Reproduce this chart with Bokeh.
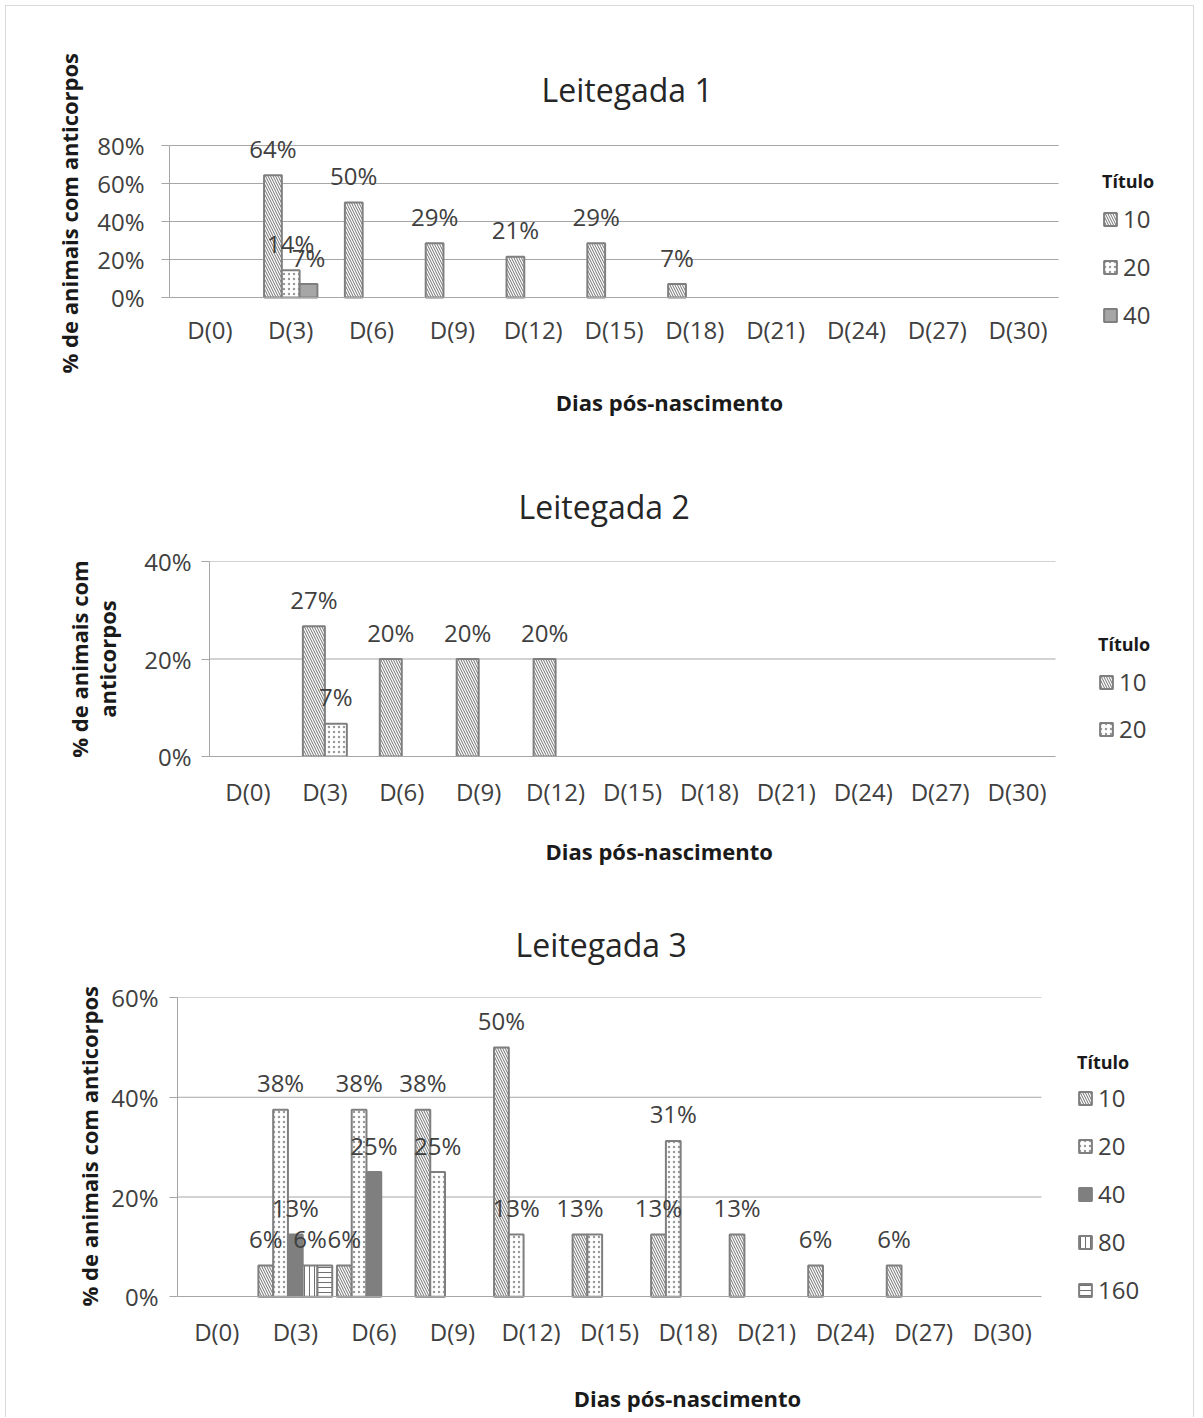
from bokeh.plotting import figure
from bokeh.models import (ColumnDataSource, FixedTicker, PrintfTickFormatter,
                          Legend, LegendItem, Range1d, Title)
from bokeh.embed import file_html
from bokeh.resources import INLINE

# ---------------- data ----------------
days = ["D(0)", "D(3)", "D(6)", "D(9)", "D(12)", "D(15)", "D(18)", "D(21)", "D(24)", "D(27)", "D(30)"]

# Leitegada 1 : % de animais com anticorpos, por título
l1_t10 = [0, 64.3, 50.0, 28.6, 21.4, 28.6, 7.1, 0, 0, 0, 0]
l1_t20 = [0, 14.3, 0, 0, 0, 0, 0, 0, 0, 0, 0]
l1_t40 = [0, 7.1, 0, 0, 0, 0, 0, 0, 0, 0, 0]
l1_yticks = [0, 20, 40, 60, 80]

# Leitegada 2
l2_t10 = [0, 26.7, 20.0, 20.0, 20.0, 0, 0, 0, 0, 0, 0]
l2_t20 = [0, 6.7, 0, 0, 0, 0, 0, 0, 0, 0, 0]
l2_yticks = [0, 20, 40]

# Leitegada 3
l3_t10 = [0, 6.25, 6.25, 37.5, 50.0, 12.5, 12.5, 12.5, 6.25, 6.25, 0]
l3_t20 = [0, 37.5, 37.5, 25.0, 12.5, 12.5, 31.25, 0, 0, 0, 0]
l3_t40 = [0, 12.5, 25.0, 0, 0, 0, 0, 0, 0, 0, 0]
l3_t80 = [0, 6.25, 0, 0, 0, 0, 0, 0, 0, 0, 0]
l3_t160 = [0, 6.25, 0, 0, 0, 0, 0, 0, 0, 0, 0]
l3_yticks = [0, 20, 40, 60]
# data labels that are not shown in the source chart: (título, day index)
l3_hidden_labels = [("160", 1), ("20", 5)]

XLABEL = "Dias pós-nascimento"

# ---------------- styling ----------------
FONT = "Open Sans"
TXT = "#404040"
DARK = "#1a1a1a"
GRID = "#a6a6a6"
EDGE = "#7f7f7f"
FRAME = "1px solid #d9d9d9"


def style_for(name, solid_40):
    base = dict(line_color=EDGE, line_width=2)
    if name == "10":
        base.update(fill_color="white", hatch_pattern="\\", hatch_color="#707070",
                    hatch_scale=5, hatch_weight=1)
    elif name == "20":
        base.update(fill_color="white", hatch_pattern=".", hatch_color="#9a9a9a",
                    hatch_scale=5, hatch_weight=1.2)
    elif name == "40":
        base.update(fill_color=solid_40)
    elif name == "80":
        base.update(fill_color="white", hatch_pattern="|", hatch_color="#707070",
                    hatch_scale=5, hatch_weight=1)
    elif name == "160":
        base.update(fill_color="white", hatch_pattern="-", hatch_color="#707070",
                    hatch_scale=5, hatch_weight=1)
    return base


def pct(v):
    return "%d%%" % int(v + 0.5)


def make_chart(title, series, yticks, ylabel, g, hidden=(), solid_40="#a6a6a6", first=False):
    ncat = len(days)
    ymax = yticks[-1]
    ext = g["mode"] == "ext"   # frame extends below the zero line (room for legend/labels)
    unit = (g["plot_right"] - g["frame_left"]) / ncat          # px per category
    x_span = (g["canvas_right"] - g["frame_left"]) / unit
    ppu = (g["zero_y"] - g["ymax_y"]) / ymax                    # px per % point
    y_start = -(g["frame_bottom"] - g["zero_y"]) / ppu
    y_end = ymax + (g["ymax_y"] - g["frame_top"]) / ppu
    styles = {"margin-left": "5px", "border-left": FRAME, "border-right": FRAME}
    if first:
        styles.update({"margin-top": "5px", "border-top": FRAME})
    p = figure(x_range=Range1d(-0.5, -0.5 + x_span), y_range=Range1d(y_start, y_end),
               width=g["w"], height=g["h"], output_backend="svg", toolbar_location=None,
               min_border_left=g["frame_left"] - 6, min_border_right=0,
               min_border_top=g["frame_top"] - g["y0"],
               min_border_bottom=g["y0"] + g["h"] - g["frame_bottom"], styles=styles)
    p.outline_line_color = None
    p.background_fill_color = "white"
    p.border_fill_color = "white"

    # title
    p.title.text = title
    p.title.align = "left"
    p.title.offset = g["title_offset"]
    p.title.text_font = FONT
    p.title.text_font_size = "32px"
    p.title.text_font_style = "normal"
    p.title.text_color = "#262626"
    p.title.standoff = g["title_standoff"]

    # grid (drawn only over the category span)
    p.xgrid.grid_line_color = None
    p.ygrid.grid_line_color = None
    gy = yticks[1:]
    p.segment(x0=[-0.5] * len(gy), x1=[ncat - 0.5] * len(gy), y0=gy, y1=gy,
              line_color=GRID, line_width=1)

    # y axis
    p.yaxis.ticker = FixedTicker(ticks=yticks)
    p.yaxis.bounds = (0, ymax)
    p.yaxis.formatter = PrintfTickFormatter(format="%d%%")
    p.yaxis.axis_line_color = GRID
    p.yaxis.major_tick_line_color = GRID
    p.yaxis.major_tick_out = 8
    p.yaxis.major_tick_in = 0
    p.yaxis.minor_tick_line_color = None
    p.yaxis.major_label_text_font = FONT
    p.yaxis.major_label_text_font_size = "24px"
    p.yaxis.major_label_text_color = TXT
    p.yaxis.major_label_standoff = g["ytick_standoff"]

    # x axis
    p.xaxis.bounds = (-0.5, ncat - 0.5)
    p.xaxis.axis_line_color = GRID
    p.xaxis.major_tick_line_color = None
    p.xaxis.minor_tick_line_color = None

    if ext:
        # y title as a side title positioned along the 0..max span
        p.add_layout(Title(text=ylabel, align="left", offset=g["ylab_offset"],
                           standoff=g["ylab_standoff"], text_font=FONT,
                           text_font_size="22px", text_font_style="bold",
                           text_color=DARK), "left")
        # zero line axis, category names and x title drawn in data space
        p.xaxis.fixed_location = 0
        p.xaxis.ticker = FixedTicker(ticks=[])
        p.xaxis.major_tick_out = 0
        p.xaxis.major_label_standoff = 0
        p.text(x=list(range(ncat)), y=[0] * ncat, text=days,
               text_font={"value": FONT}, text_font_size="24px", text_color=TXT,
               text_align="center", text_baseline="alphabetic", y_offset=g["xtick_dy"])
        xc = (g["xlab_cx"] - g["frame_left"]) / unit - 0.5
        p.text(x=[xc], y=[0], text=[XLABEL], text_font={"value": FONT},
               text_font_size="22px", text_font_style="bold", text_color=DARK,
               text_align="center", text_baseline="alphabetic", y_offset=g["xlab_dy"])
    else:
        p.yaxis.axis_label = ylabel
        p.yaxis.axis_label_text_font = FONT
        p.yaxis.axis_label_text_font_size = "22px"
        p.yaxis.axis_label_text_font_style = "bold"
        p.yaxis.axis_label_text_color = DARK
        p.yaxis.axis_label_text_line_height = 0.95
        p.yaxis.axis_label_standoff = g["ylab_standoff"]
        p.xaxis.ticker = FixedTicker(ticks=list(range(ncat)))
        p.xaxis.major_label_overrides = {k: d for k, d in enumerate(days)}
        p.xaxis.major_label_text_font = FONT
        p.xaxis.major_label_text_font_size = "24px"
        p.xaxis.major_label_text_color = TXT
        p.xaxis.major_label_standoff = g["xtick_standoff"]
        p.add_layout(Title(text=XLABEL, align="left", offset=g["xlab_offset"],
                           standoff=g["xlab_standoff"], text_font=FONT,
                           text_font_size="22px", text_font_style="bold",
                           text_color=DARK), "below")

    n = len(series)
    bw = g["bar_w"]
    items = []
    offsets = [(i - (n - 1) / 2) * bw for i in range(n)]
    for (name, vals), off in zip(series, offsets):
        nz = [k for k, v in enumerate(vals) if v > 0]
        src = ColumnDataSource(dict(x=[k + off for k in nz], val=[vals[k] for k in nz]))
        r = p.vbar(x="x", top="val", width=bw, bottom=0, source=src,
                   **style_for(name, solid_40))
        items.append(LegendItem(label=name, renderers=[r]))
    # data labels on top of all bars
    for (name, vals), off in zip(series, offsets):
        keep = [k for k, v in enumerate(vals) if v > 0 and (name, k) not in hidden]
        lsrc = ColumnDataSource(dict(x=[k + off for k in keep],
                                     val=[vals[k] for k in keep],
                                     txt=[pct(vals[k]) for k in keep]))
        p.text(x="x", y="val", text="txt", source=lsrc,
               text_font={"value": FONT}, text_font_size="24px", text_color=TXT,
               text_align="center", text_baseline="alphabetic", y_offset=-27)

    legend = Legend(items=items, title="Título", location=g["legend_loc"],
                    orientation="vertical")
    legend.title_text_font = FONT
    legend.title_text_font_size = "18px"
    legend.title_text_font_style = "bold"
    legend.title_text_color = DARK
    legend.title_standoff = g["legend_title_standoff"]
    legend.label_text_font = FONT
    legend.label_text_font_size = "24px"
    legend.label_text_color = TXT
    legend.label_standoff = 5
    legend.label_height = 24
    legend.glyph_width = 16
    legend.glyph_height = 16
    legend.spacing = g["legend_spacing"]
    legend.padding = 0
    legend.margin = 0
    legend.border_line_color = None
    legend.background_fill_alpha = 0
    p.add_layout(legend)
    return p


# geometry in page pixels; every canvas starts at x = 6
g1 = dict(mode="ext", y0=6, w=1189, h=444, frame_left=169, plot_right=1058, canvas_right=1195,
          frame_top=125, ymax_y=145, zero_y=297, frame_bottom=446, bar_w=0.22,
          title_standoff=29, title_offset=372, ytick_standoff=17,
          ylab_standoff=22, ylab_offset=73,
          xtick_dy=32, xlab_dy=104, xlab_cx=669, legend_loc=(933, 115),
          legend_title_standoff=9, legend_spacing=15)
g2 = dict(mode="std", y0=450, w=1189, h=440, frame_left=209, plot_right=1055, canvas_right=1195,
          frame_top=561, ymax_y=561, zero_y=757, frame_bottom=757, bar_w=0.286,
          title_standoff=67, title_offset=309, ytick_standoff=10, ylab_standoff=19,
          xtick_standoff=12, xlab_standoff=47, xlab_offset=336, legend_loc=(889, 11),
          legend_title_standoff=9, legend_spacing=14)
g3 = dict(mode="ext", y0=890, w=1189, h=528, frame_left=177, plot_right=1041, canvas_right=1195,
          frame_top=997, ymax_y=997, zero_y=1297, frame_bottom=1414, bar_w=0.188,
          title_standoff=63, title_offset=338, ytick_standoff=11,
          ylab_standoff=10, ylab_offset=107,
          xtick_dy=35, xlab_dy=101, xlab_cx=687, legend_loc=(900, 107),
          legend_title_standoff=7, legend_spacing=15)

p1 = make_chart("Leitegada 1", [("10", l1_t10), ("20", l1_t20), ("40", l1_t40)],
                l1_yticks, "% de animais com anticorpos", g1, solid_40="#a6a6a6", first=True)
p2 = make_chart("Leitegada 2", [("10", l2_t10), ("20", l2_t20)],
                l2_yticks, "% de animais com\nanticorpos", g2)
p3 = make_chart("Leitegada  3", [("10", l3_t10), ("20", l3_t20), ("40", l3_t40),
                                 ("80", l3_t80), ("160", l3_t160)],
                l3_yticks, "% de animais com anticorpos", g3,
                hidden=l3_hidden_labels, solid_40="#7f7f7f")

open("out.html", "w").write(file_html([p1, p2, p3], INLINE))
